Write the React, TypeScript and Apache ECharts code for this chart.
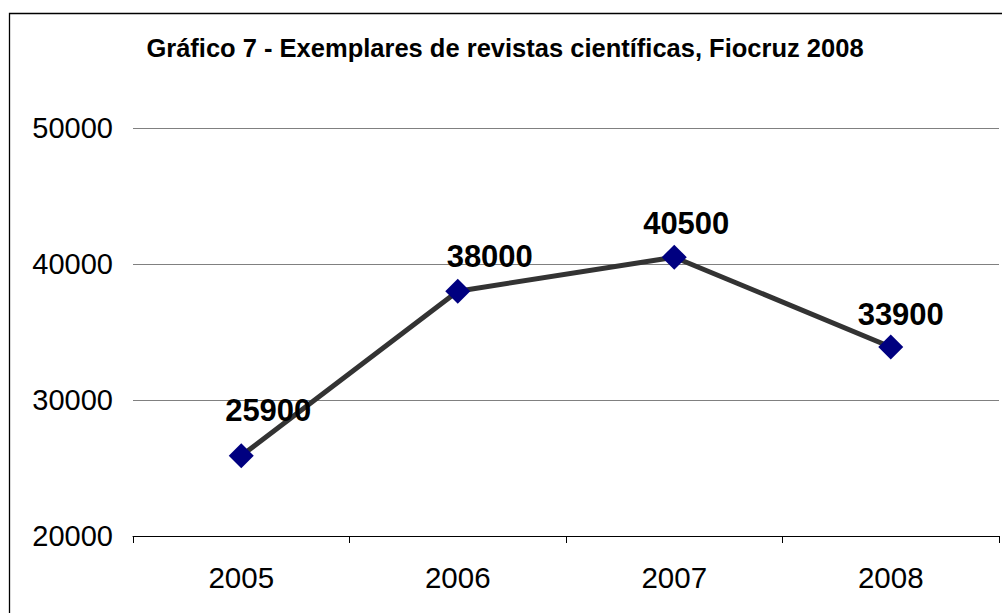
import React, { useEffect, useRef } from "react";
import * as echarts from "echarts";

const titleText = "Gráfico 7 - Exemplares de revistas científicas, Fiocruz 2008";
const years = ["2005", "2006", "2007", "2008"];
const copies = [25900, 38000, 40500, 33900];
const yMin = 20000;
const yMax = 50000;
const yStep = 10000;
// label nudges (style only), matching the reference's label placement
const labelNudges: [number, number][] = [
  [27, -11],
  [32, -1],
  [12, 0],
  [10, 2],
];

export default function App() {
  const ref = useRef<HTMLDivElement>(null);
  useEffect(() => {
    const chart = echarts.init(ref.current!, null, { renderer: "svg" });
    const font = "Liberation Sans, Arial, sans-serif";
    chart.setOption({
      animation: false,
      backgroundColor: "#ffffff",
      textStyle: { fontFamily: font },
      graphic: [
        {
          type: "rect",
          shape: { x: 9.5, y: 13.5, width: 1200, height: 800 },
          style: { fill: "none", stroke: "#000000", lineWidth: 1.3 },
          silent: true,
        },
      ],
      title: {
        text: titleText,
        left: 500,
        top: 30,
        textAlign: "center",
        textStyle: {
          fontFamily: font,
          fontWeight: "bold",
          fontSize: 25.5,
          color: "#000000",
        },
      },
      grid: { left: 133, right: 3, top: 128, bottom: 77, containLabel: false },
      xAxis: {
        type: "category",
        data: years,
        boundaryGap: true,
        axisLine: { lineStyle: { color: "#000000", width: 1 } },
        axisTick: { show: true, length: 7, lineStyle: { color: "#000000" } },
        axisLabel: {
          fontSize: 29.5,
          color: "#000000",
          margin: 26,
          fontFamily: font,
        },
        splitLine: { show: false },
      },
      yAxis: {
        type: "value",
        min: yMin,
        max: yMax,
        interval: yStep,
        axisLine: { show: false },
        axisTick: { show: false },
        axisLabel: {
          fontSize: 29,
          color: "#000000",
          margin: 20,
          fontFamily: font,
          formatter: (v: number) => String(v),
        },
        splitLine: { show: true, lineStyle: { color: "#808080", width: 1 } },
      },
      series: [
        {
          type: "line",
          data: copies.map((v, i) => ({
            value: v,
            label: { offset: labelNudges[i] },
          })),
          symbol: "diamond",
          symbolSize: 25,
          lineStyle: { color: "#333333", width: 5 },
          itemStyle: { color: "#000080" },
          label: {
            show: true,
            position: "top",
            distance: 6,
            fontSize: 31,
            fontWeight: "bold",
            color: "#000000",
            fontFamily: font,
          },
          z: 3,
        },
      ],
    });
    return () => chart.dispose();
  }, []);
  return (
    <div
      ref={ref}
      style={{ position: "fixed", left: 0, top: 0, width: 1002, height: 613 }}
    />
  );
}
